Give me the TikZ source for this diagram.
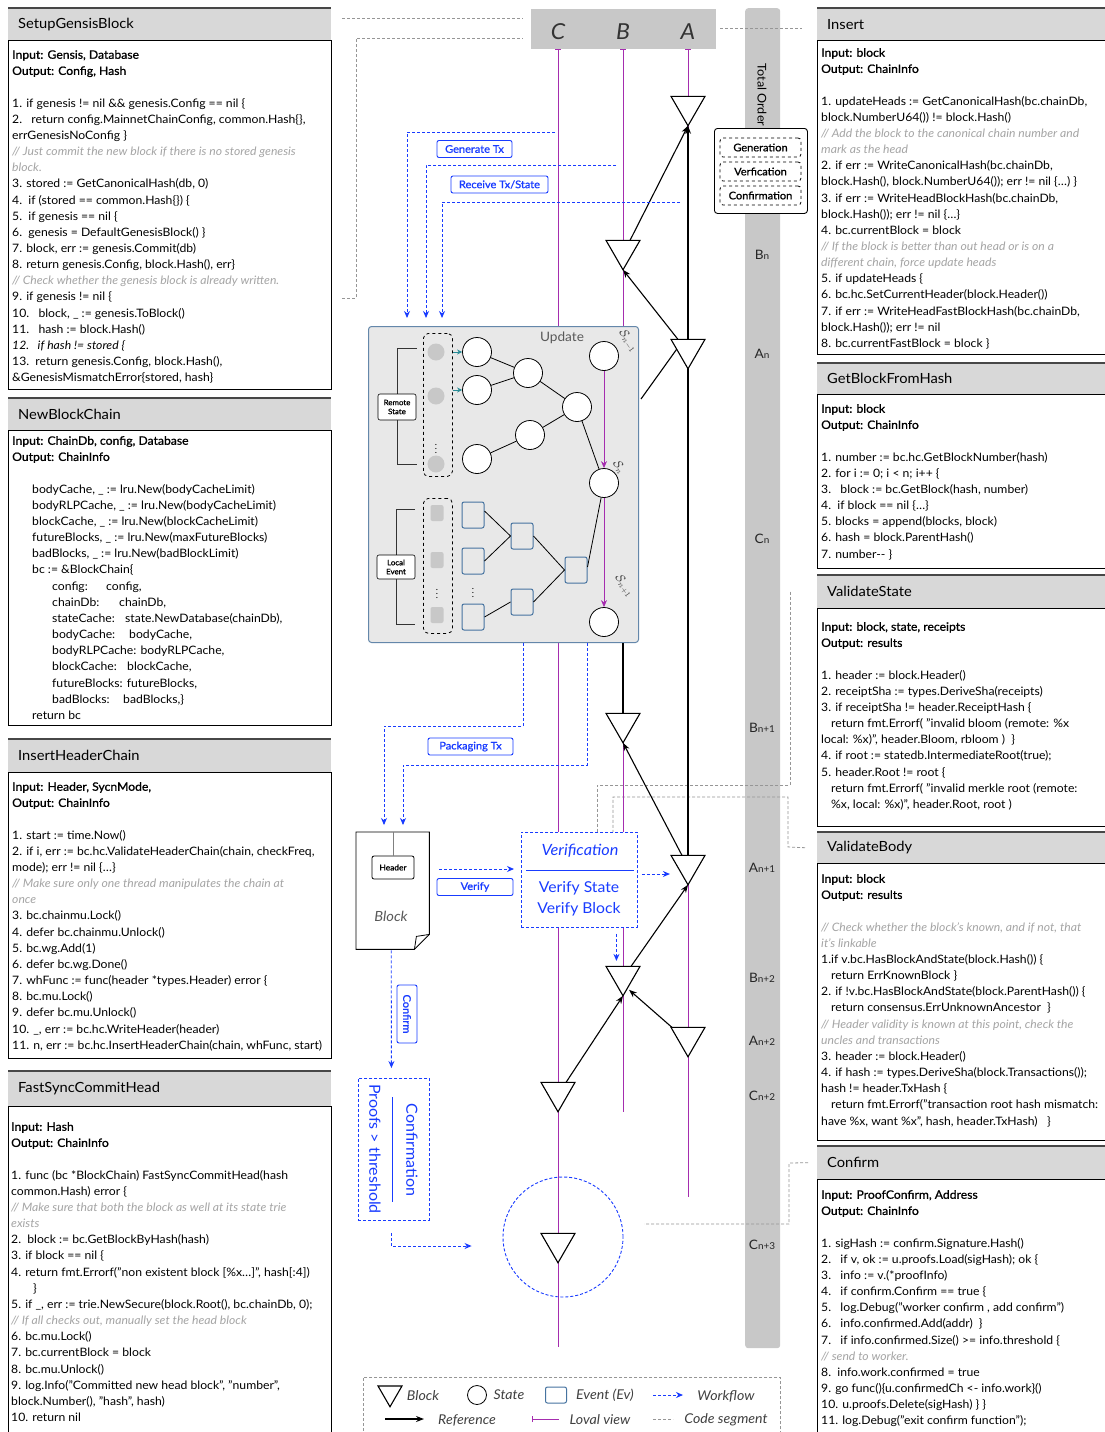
\documentclass[tikz,border=0pt]{standalone}
\usepackage{fontspec}
\setmainfont{Lato}[FakeStretch=1.05]
\newfontfamily\medfont{Lato}[FakeBold=1,FakeStretch=1.05]
\usetikzlibrary{arrows.meta,shapes.geometric,calc}

\definecolor{wfblue}{RGB}{25,60,255}
\definecolor{lane}{RGB}{165,45,175}
\definecolor{cmt}{RGB}{165,165,165}
\definecolor{hdrgray}{RGB}{216,216,216}
\definecolor{bargray}{RGB}{200,200,200}
\definecolor{segray}{RGB}{150,150,150}
\definecolor{evblue}{RGB}{70,115,160}
\definecolor{updfill}{RGB}{232,232,232}
\definecolor{updedge}{RGB}{100,135,170}
\definecolor{tealc}{RGB}{40,140,150}

\newcommand\cm[1]{{\color{cmt}\itshape #1}}
\newcommand\io[1]{{\medfont #1}}
\newcommand\kv[3]{\makebox[#2pt][l]{#1}#3}
\newcommand\seq[2]{{\fontsize{13}{13}\selectfont #1}{\fontsize{9.5}{10}\selectfont #2}}

% function panel: grey title band over a framed body
\newcommand\fnpanel[7]{%
  \node[hdrband, minimum width=#4, minimum height=#5] (#1h) at (#2,#3) {};
  \draw[hdrrule] (#1h.north west) -- (#1h.north east);
  \node[hdrtitle] (#1t) at ($(#1h.west)+(10,0)$) {#7};
  \node[bodybox, minimum width=#4, minimum height=#6] (#1b) at (#1h.south west) {};
}

\tikzset{
  hdrband/.style={fill=hdrgray, draw=none, inner sep=0, anchor=north west},
  hdrtitle/.style={anchor=west, inner sep=0, font=\fontsize{14}{16}\selectfont},
  hdrrule/.style={line width=1.6, draw=black!72},
  bodybox/.style={draw=black, line width=0.9, fill=white, anchor=north west, inner sep=0},
  codetext/.style={anchor=north west, inner sep=0, align=left, font=\fontsize{11.6}{16.15}\selectfont},
  seg/.style={draw=segray, line width=0.8, dash pattern=on 3pt off 2pt},
  lanel/.style={draw=lane, line width=0.9, arrows={Bar[width=6pt]-}},
  refl/.style={draw=black, line width=1.1},
  refa/.style={refl, -{Stealth[length=8pt,width=6pt]}},
  wf/.style={draw=wfblue, line width=0.9, dash pattern=on 3pt off 2pt, -{Stealth[length=7pt,width=6pt]}},
  wflbl/.style={draw=wfblue, text=wfblue, fill=white, rounded corners=2, line width=0.9, inner sep=0, minimum height=17, font=\medfont\fontsize{10.5}{12}\selectfont},
  blk/.style={draw, line width=1.1, fill=white, regular polygon, regular polygon sides=3, shape border rotate=180, minimum size=36.95, inner sep=0},
  stc/.style={circle, draw, line width=0.8, fill=white, minimum size=29, inner sep=0},
  rdot/.style={circle, fill=bargray, minimum size=17, inner sep=0},
  evb/.style={draw=evblue, line width=1, rounded corners=2, minimum width=22, minimum height=26, inner sep=0},
  lsq/.style={fill=bargray, rounded corners=2, minimum width=13, minimum height=16, inner sep=0},
  colbox/.style={draw, dashed, line width=0.8, rounded corners=5, inner sep=0, anchor=north west},
  brk/.style={draw=black!80, line width=0.8},
  brklbl/.style={draw, rounded corners=2, fill=white, line width=0.6, align=center, inner sep=1.5, font=\medfont\fontsize{7.5}{9}\selectfont, minimum width=38},
  edg/.style={draw=black, line width=0.8},
  seqlab/.style={text=black!85, inner sep=0},
  slab/.style={text=black!75, inner sep=0, rotate=-55, font=\fontsize{12}{12}\selectfont},
  legtxt/.style={font=\itshape\fontsize{13.5}{14}\selectfont, text=black!75, inner sep=0},
  phase/.style={draw, dashed, rounded corners=3, line width=0.8, minimum width=81, minimum height=19, inner sep=0, font=\medfont\fontsize{10.5}{12}\selectfont},
}

\begin{document}
\begin{tikzpicture}[x=1pt,y=-1pt]
\useasboundingbox (0,0) rectangle (1105,1432);
\fill[white] (0,0) rectangle (1105,1432);

% ---------- total order bar ----------
\node[fill=bargray, rounded corners=3, minimum width=35, minimum height=1340, anchor=north west, inner sep=0] (tobar) at (745,8) {};
\node[rotate=-90, font=\fontsize{12}{12}\selectfont] (totxt) at (762,95) {Total Order};
\node[seqlab] (oBn)  at (762,255)  {\seq{B}{n}};
\node[seqlab] (oAn)  at (762,354)  {\seq{A}{n}};
\node[seqlab] (oCn)  at (762,539)  {\seq{C}{n}};
\node[seqlab] (oBn1) at (762,728)  {\seq{B}{n+1}};
\node[seqlab] (oAn1) at (762,868)  {\seq{A}{n+1}};
\node[seqlab] (oBn2) at (762,978)  {\seq{B}{n+2}};
\node[seqlab] (oAn2) at (762,1041) {\seq{A}{n+2}};
\node[seqlab] (oCn2) at (762,1096) {\seq{C}{n+2}};
\node[seqlab] (oCn3) at (762,1245) {\seq{C}{n+3}};

% ---------- function panels ----------
\fnpanel{sg}{8}{8}{323}{32}{349}{SetupGensisBlock}
\fnpanel{nb}{8}{398}{323}{32}{295}{NewBlockChain}
\fnpanel{ih}{8}{739}{323}{33}{286}{InsertHeaderChain}
\fnpanel{fs}{8}{1071}{323}{35}{340}{FastSyncCommitHead}
\fnpanel{in}{817}{8}{292}{32}{314}{Insert}
\fnpanel{gb}{817}{363}{292}{31}{174}{GetBlockFromHash}
\fnpanel{vs}{817}{575}{292}{33}{218}{ValidateState}
\fnpanel{vb}{817}{832}{292}{31}{277}{ValidateBody}
\fnpanel{cf}{817}{1146}{292}{33}{300}{Confirm}

\node[codetext] (sgc) at (12,50) {%
\io{Input: Gensis, Database}\\
\io{Output: Config, Hash}\\
\mbox{}\\
1. if genesis != nil \&\& genesis.Config == nil \{\\
2.\ \ \ return config.MainnetChainConfig, common.Hash\{\},\\
errGenesisNoConfig \}\\
\cm{// Just commit the new block if there is no stored genesis}\\
\cm{block.}\\
3. stored := GetCanonicalHash(db, 0)\\
4.\ \ if (stored == common.Hash\{\}) \{\\
5.\ \ if genesis == nil \{\\
6.\ \ genesis = DefaultGenesisBlock() \}\\
7. block, err := genesis.Commit(db)\\
8. return genesis.Config, block.Hash(), err\}\\
\cm{// Check whether the genesis block is already written.}\\
9. if genesis != nil \{\\
10.\ \ \ block, \_ := genesis.ToBlock()\\
11.\ \ \ hash := block.Hash()\\
{\itshape 12.\ \ \ if hash != stored \{}\\
13.\ \ return genesis.Config, block.Hash(),\\
\&GenesisMismatchError\{stored, hash\}};

\node[codetext] (nbc) at (12,436) {%
\io{Input: ChainDb, config, Database}\\
\io{Output: ChainInfo}\\
\mbox{}\\
\hspace*{20pt}bodyCache, \_ := lru.New(bodyCacheLimit)\\
\hspace*{20pt}bodyRLPCache, \_ := lru.New(bodyCacheLimit)\\
\hspace*{20pt}blockCache, \_ := lru.New(blockCacheLimit)\\
\hspace*{20pt}futureBlocks, \_ := lru.New(maxFutureBlocks)\\
\hspace*{20pt}badBlocks, \_ := lru.New(badBlockLimit)\\
\hspace*{20pt}bc := \&BlockChain\{\\
\hspace*{40pt}\kv{config:}{54}{config,}\\
\hspace*{40pt}\kv{chainDb:}{67}{chainDb,}\\
\hspace*{40pt}\kv{stateCache:}{73}{state.NewDatabase(chainDb),}\\
\hspace*{40pt}\kv{bodyCache:}{77}{bodyCache,}\\
\hspace*{40pt}bodyRLPCache: bodyRLPCache,\\
\hspace*{40pt}\kv{blockCache:}{75}{blockCache,}\\
\hspace*{40pt}futureBlocks: futureBlocks,\\
\hspace*{40pt}\kv{badBlocks:}{71}{badBlocks,\}}\\
\hspace*{20pt}return bc};

\node[codetext] (ihc) at (12,782) {%
\io{Input: Header, SycnMode,}\\
\io{Output: ChainInfo}\\
\mbox{}\\
1. start := time.Now()\\
2. if i, err := bc.hc.ValidateHeaderChain(chain, checkFreq,\\
mode); err != nil \{…\}\\
\cm{// Make sure only one thread manipulates the chain at}\\
\cm{once}\\
3. bc.chainmu.Lock()\\
4. defer bc.chainmu.Unlock()\\
5. bc.wg.Add(1)\\
6. defer bc.wg.Done()\\
7. whFunc := func(header *types.Header) error \{\\
8. bc.mu.Lock()\\
9. defer bc.mu.Unlock()\\
10. \_, err := bc.hc.WriteHeader(header)\\
11. n, err := bc.hc.InsertHeaderChain(chain, whFunc, start)};

\node[codetext] (fsc) at (11,1122) {%
\io{Input: Hash}\\
\io{Output: ChainInfo}\\
\mbox{}\\
1. func (bc *BlockChain) FastSyncCommitHead(hash\\
common.Hash) error \{\\
\cm{// Make sure that both the block as well at its state trie}\\
\cm{exists}\\
2.\ \ block := bc.GetBlockByHash(hash)\\
3. if block == nil \{\\
4. return fmt.Errorf("non existent block [\%x…]", hash[:4])\\
\hspace*{22pt}\}\\
5. if \_, err := trie.NewSecure(block.Root(), bc.chainDb, 0);\\
\cm{// If all checks out, manually set the head block}\\
6. bc.mu.Lock()\\
7. bc.currentBlock = block\\
8. bc.mu.Unlock()\\
9. log.Info("Committed new head block", "number",\\
block.Number(), "hash", hash)\\
10. return nil};

\node[codetext] (inc) at (821,48) {%
\io{Input: block}\\
\io{Output: ChainInfo}\\
\mbox{}\\
1. updateHeads := GetCanonicalHash(bc.chainDb,\\
block.NumberU64()) != block.Hash()\\
\cm{// Add the block to the canonical chain number and}\\
\cm{mark as the head}\\
2. if err := WriteCanonicalHash(bc.chainDb,\\
block.Hash(), block.NumberU64()); err != nil \{…) \}\\
3. if err := WriteHeadBlockHash(bc.chainDb,\\
block.Hash()); err != nil \{…\}\\
4. bc.currentBlock = block\\
\cm{// If the block is better than out head or is on a}\\
\cm{different chain, force update heads}\\
5. if updateHeads \{\\
6. bc.hc.SetCurrentHeader(block.Header())\\
7. if err := WriteHeadFastBlockHash(bc.chainDb,\\
block.Hash()); err != nil\\
8. bc.currentFastBlock = block \}};

\node[codetext] (gbc) at (821,404) {%
\io{Input: block}\\
\io{Output: ChainInfo}\\
\mbox{}\\
1. number := bc.hc.GetBlockNumber(hash)\\
2. for i := 0; i < n; i++ \{\\
3.\ \ \ block := bc.GetBlock(hash, number)\\
4.\ \ if block == nil \{…\}\\
5. blocks = append(blocks, block)\\
6. hash = block.ParentHash()\\
7. number-{}- \}};

\node[codetext] (vsc) at (821,622) {%
\io{Input: block, state, receipts}\\
\io{Output: results}\\
\mbox{}\\
1. header := block.Header()\\
2. receiptSha := types.DeriveSha(receipts)\\
3. if receiptSha != header.ReceiptHash \{\\
\hspace*{10pt}return fmt.Errorf( "invalid bloom (remote: \%x\\
local: \%x)", header.Bloom, rbloom )\ \ \}\\
4. if root := statedb.IntermediateRoot(true);\\
5. header.Root != root \{\\
\hspace*{10pt}return fmt.Errorf( "invalid merkle root (remote:\\
\hspace*{10pt}\%x, local: \%x)", header.Root, root )};

\node[codetext] (vbc) at (821,874) {%
\io{Input: block}\\
\io{Output: results}\\
\mbox{}\\
\cm{// Check whether the block's known, and if not, that}\\
\cm{it's linkable}\\
1.if v.bc.HasBlockAndState(block.Hash()) \{\\
\hspace*{10pt}return ErrKnownBlock \}\\
2. if !v.bc.HasBlockAndState(block.ParentHash()) \{\\
\hspace*{10pt}return consensus.ErrUnknownAncestor\ \ \}\\
\cm{// Header validity is known at this point, check the}\\
\cm{uncles and transactions}\\
3. header := block.Header()\\
4. if hash := types.DeriveSha(block.Transactions());\\
hash != header.TxHash \{\\
\hspace*{10pt}return fmt.Errorf("transaction root hash mismatch:\\
have \%x, want \%x", hash, header.TxHash)\ \ \ \}};

\node[codetext] (cfc) at (821,1190) {%
\io{Input: ProofConfirm, Address}\\
\io{Output: ChainInfo}\\
\mbox{}\\
1. sigHash := confirm.Signature.Hash()\\
2.\ \ \ if v, ok := u.proofs.Load(sigHash); ok \{\\
3.\ \ \ info := v.(*proofInfo)\\
4.\ \ \ if confirm.Confirm == true \{\\
5.\ \ \ log.Debug("worker confirm , add confirm")\\
6.\ \ \ info.confirmed.Add(addr)\ \ \}\\
7.\ \ \ if info.confirmed.Size() >= info.threshold \{\\
\cm{// send to worker.}\\
8.\ \ info.work.confirmed = true\\
9. go func()\{u.confirmedCh <- info.work\}()\\
10. u.proofs.Delete(sigHash) \} \}\\
11. log.Debug("exit confirm function");};

% ---------- code segment links ----------
\draw[seg] (342,18) -- (523,18);
\draw[seg] (342,298) -- (356,298) -- (356,38) -- (523,38);
\draw[seg] (720,28) -- (802,28);
\draw[seg] ($(vsh.west)+(-27,0)$) -- (790,593) -- (790,785) -- (597,785) -- (597,832);
\draw[seg] ($(vbh.west)+(-12,0)$) -- (788,847) -- (788,797) -- (613,797) -- (613,832);
\draw[seg] ($(cfh.west)+(-9,0)$) -- (789,1163) -- (789,1224) -- (644,1224);

% ---------- lanes ----------
\node[fill=bargray, minimum width=185, minimum height=40, anchor=north west, inner sep=0] (lanes) at (531,9) {};
\node[font=\itshape\fontsize{22}{22}\selectfont, text=black!80] (labC) at (558,32) {C};
\node[font=\itshape\fontsize{22}{22}\selectfont, text=black!80] (labB) at (623,32) {B};
\node[font=\itshape\fontsize{22}{22}\selectfont, text=black!80] (labA) at (688,32) {A};
\coordinate (Cend) at (558,1347);
\coordinate (Bend) at (623,1112);
\coordinate (Aend) at (688,1197);
\draw[lanel] (lanes.south -| labC) -- (Cend);
\draw[lanel] (lanes.south -| labB) -- (Bend);
\draw[lanel] (lanes.south -| labA) -- (Aend);

% ---------- blocks ----------
\node[blk] (Atop) at (688,106.2) {};
\node[blk] (Bn)   at (623,250.2) {};
\node[blk] (An)   at (688,349.2) {};
\node[blk] (Bn1)  at (623,723.2) {};
\node[blk] (An1)  at (688,865.2) {};
\node[blk] (Bn2)  at (623,976.2) {};
\node[blk] (An2)  at (688,1037.2) {};
\node[blk] (Cn2)  at (558,1092.2) {};
\node[blk] (Cn3)  at (558,1243.2) {};

% ---------- update box ----------
\node[draw=updedge, fill=updfill, rounded corners=3, line width=1, minimum width=270, minimum height=316, anchor=north west, inner sep=0] (upd) at (368,326) {};
\node[text=black!65, font=\fontsize{13}{13}\selectfont] (updtxt) at (562,338) {Update};

% references between blocks
\draw[refa] (An1.north) -- (Atop.south);
\draw[refa] ($(Bn.north)+(7,0)$) -- (Atop.south);
\draw[refa] ($(An.north)+(-10,0)$) -- (Bn.south);
\coordinate (updA) at (641,399);
\draw[refl] (updA) -- (An.west);
\draw[refl] (upd.south -| Bn1) -- (Bn1.north);
\draw[refa] ($(An1.north)+(-6,0)$) -- (Bn1.south);
\draw[refa] ($(Bn2.north)+(8,0)$) -- (An1.south);
\draw[refa] ($(Cn2.north)+(8,0)$) -- (Bn2.south);
\draw[refa] ($(An2.north)+(-16,0)$) -- ($(Bn2.south)+(6,-6)$);
% redraw blocks above the reference lines
\foreach \b in {Atop,Bn,An,Bn1,An1,Bn2,An2,Cn2,Cn3}{
  \draw[line width=1.1, fill=white] (\b.corner 1) -- (\b.corner 2) -- (\b.corner 3) -- cycle;
}

% remote state column
\node[colbox, minimum width=29, minimum height=143] (rcol) at (423,333) {};
\node[rdot] (rd1) at (436,352) {};
\node[rdot] (rd2) at (436,396) {};
\node[rdot] (rd3) at (436,464) {};
\node[font=\fontsize{9}{9}\selectfont] (rdd) at (436,446) {$\vdots$};
\draw[brk] (417,348) -- (397,348) -- (397,464) -- (417,464);
\node[brklbl, minimum height=26] (rlab) at (397,407) {Remote\\State};

% state tree
\node[stc] (c1) at (477,352) {};
\node[stc] (c2) at (477,390) {};
\node[stc] (c3) at (528,373) {};
\node[stc] (c4) at (577,407) {};
\node[stc] (c5) at (530,435) {};
\node[stc] (c6) at (477,459) {};
\node[stc] (Sn1) at (604,356) {};
\node[stc] (Sn)  at (604,483) {};
\node[stc] (Sn2) at (604,622) {};
\draw[edg] (c1) -- (c3);
\draw[edg] (c2) -- (c3);
\draw[edg] (c3) -- (c4);
\draw[edg] (c6) -- (c5);
\draw[edg] (c5) -- (c4);
\draw[edg] (c4) -- (Sn);
\draw[draw=tealc, line width=0.8, -{Stealth[length=5pt,width=5pt]}] (rcol.east |- c1) -- (c1.west);
\draw[draw=tealc, line width=0.8, -{Stealth[length=5pt,width=5pt]}] (rcol.east |- c2) -- (c2.west);
\draw[draw=lane, line width=1, -{Stealth[length=7pt,width=6pt]}] (Sn1) -- (Sn);
\draw[draw=lane, line width=1, -{Stealth[length=7pt,width=6pt]}] (Sn) -- (Sn2);
\node[slab] (lSn1) at (628,341) {$\mathcal{S}_{n-1}$};
\node[slab] (lSn)  at (619,467) {$\mathcal{S}_{n}$};
\node[slab] (lSn2) at (624,586) {$\mathcal{S}_{n+1}$};

% local event column
\node[colbox, minimum width=29, minimum height=135] (lcol) at (423,498) {};
\node[lsq] (le1) at (437,513) {};
\node[lsq] (le2) at (437,560) {};
\node[lsq] (le3) at (437,615) {};
\node[font=\fontsize{9}{9}\selectfont] (led) at (437,591) {$\vdots$};
\draw[brk] (415,509) -- (396,509) -- (396,624) -- (415,624);
\node[brklbl, minimum height=24] (llab) at (396,567) {Local\\Event};

% event tree
\node[evb] (e1) at (473,515) {};
\node[evb] (e2) at (473,561) {};
\node[evb] (e3) at (473,617) {};
\node[evb] (e4) at (522,536) {};
\node[evb] (e5) at (522,602) {};
\node[evb] (e6) at (576,570) {};
\node[font=\fontsize{9}{9}\selectfont] (ed) at (473,590) {$\vdots$};
\draw[edg] ($(e1.east)+(0,-4)$) -- (e4.west);
\draw[edg] (e2.east) -- (e4.west);
\draw[edg] (e3.east) -- (e5.west);
\draw[edg] (e4.east) -- (e6.west);
\draw[edg] (e5.east) -- (e6.west);
\draw[edg] ($(e6.east)+(0,-3)$) -- (Sn);

% ---------- workflow ----------
\coordinate (gA) at (555,132);
\coordinate (rA) at (616,165);
\coordinate (tA) at (680,202);
\draw[wf, shorten >=8pt] (gA) -| ($(upd.north west)+(39,0)$);
\draw[wf, shorten >=8pt] (rA) -| ($(upd.north west)+(58,0)$);
\draw[wf, shorten >=8pt] (tA) -| ($(upd.north west)+(74,0)$);
\node[wflbl, minimum width=75] (lgen) at (474.5,149) {Generate Tx};
\node[wflbl, minimum width=97] (lrec) at (499.5,184.5) {Receive Tx/State};

% block document
\node[minimum width=73, minimum height=117, anchor=north west, inner sep=0] (doc) at (356,832) {};
\draw[line width=0.9, fill=white] (doc.north west) -- (doc.north east) -- ($(doc.south east)+(0,-15)$) -- ($(doc.south east)+(-15,0)$) -- (doc.south west) -- cycle;
\draw[line width=0.8] ($(doc.south east)+(0,-15)$) -- ($(doc.south east)+(-13,-13)$) -- ($(doc.south east)+(-15,0)$);
\node[draw, rounded corners=2, fill=white, line width=0.8, minimum width=42, minimum height=23, inner sep=0, font=\medfont\fontsize{8}{8}\selectfont] (hdrb) at (393,867.5) {Header};
\draw[draw=black!50, line width=1] (doc.north -| hdrb) -- (hdrb.north);
\node[font=\itshape\fontsize{14}{14}\selectfont, text=black!65] (doctxt) at (391,916) {Block};

\draw[wf, shorten >=7pt] ($(upd.south west)+(155,0)$) -- ++(0,83) -| ($(doc.north west)+(28,0)$);
\draw[wf, shorten >=7pt] ($(upd.south west)+(219,0)$) -- ++(0,122) -| ($(doc.north west)+(47,0)$);
\node[wflbl, minimum width=85] (lpack) at (470.5,746.5) {Packaging Tx};

% verification
\node[draw=wfblue, dash pattern=on 3pt off 2pt, fill=white, line width=0.9, minimum width=116, minimum height=95, anchor=north west, inner sep=0] (verif) at (521,832) {};
\node[text=wfblue, font=\itshape\fontsize{15.5}{16}\selectfont] (vtit) at (580,851) {Verification};
\draw[draw=wfblue, line width=0.9] ($(verif.north west)+(5,38)$) -- ($(verif.north east)+(-4,38)$);
\node[text=wfblue, font=\fontsize{15}{21}\selectfont, align=center] (vbody) at (579,898.5) {Verify State\\Verify Block};
\draw[wf] ($(doc.north east)+(10,37)$) -- ($(verif.north west)+(-7,37)$);
\node[wflbl, minimum width=76] (lver) at (475,887) {Verify};
\draw[wf] ($(verif.north east)+(4,42)$) -- ($(verif.north east)+(32,42)$);
\draw[wf] ($(verif.south)+(37,6)$) -- ++(0,27);

% confirmation
\node[draw=wfblue, dash pattern=on 3pt off 2pt, fill=white, line width=0.9, minimum width=71, minimum height=142, anchor=north west, inner sep=0] (conf) at (358,1078) {};
\node[text=wfblue, rotate=-90, font=\fontsize{15.3}{16}\selectfont] (ctit) at (412,1150) {Confirmation};
\draw[draw=wfblue, line width=0.9] (392,1097) -- (392,1202);
\node[text=wfblue, rotate=-90, font=\fontsize{15.3}{16}\selectfont] (cbody) at (375,1149) {Proofs > threshold};
\draw[wf, shorten >=10pt] ($(doc.south)+(-1.5,1)$) -- ($(conf.north)+(-2.5,0)$);
\node[wflbl, rotate=-90, minimum width=58, minimum height=20] (lconf) at (407,1014) {Confirm};
\node[circle, draw=wfblue, dash pattern=on 3pt off 2pt, line width=0.9, minimum size=120, inner sep=0] (ring) at (563,1237) {};
\draw[wf] ($(conf.south)+(-2.5,12)$) |- ($(ring.west)+(-31,9)$);

% ---------- phases ----------
\node[draw, rounded corners=3, fill=white, line width=0.9, minimum width=93, minimum height=85, anchor=north west, inner sep=0] (phases) at (714,128) {};
\node[phase] (pgen) at (760.5,147.5) {Generation};
\node[phase] (pver) at (760.5,171.5) {Verfication};
\node[phase] (pcon) at (760.5,195.5) {Confirmation};

% ---------- legend ----------
\node[draw=segray, dash pattern=on 3pt off 2pt, line width=0.8, minimum width=417, minimum height=80, anchor=north west, inner sep=0] (leg) at (363,1377) {};
\node[blk, minimum size=27.7] (lgblk) at (390,1392.9) {};
\node[legtxt] (lgt1) at (423,1396) {Block};
\node[stc, minimum size=19] (lgst) at (477,1395) {};
\node[legtxt] (lgt2) at (509,1395) {State};
\node[evb, minimum width=21, minimum height=16] (lgev) at (556,1395) {};
\node[legtxt] (lgt3) at (605,1395) {Event (Ev)};
\coordinate (lw1) at (653,1395);
\coordinate (lw2) at (683,1395);
\draw[wf] (lw1) -- (lw2);
\node[legtxt] (lgt4) at (726,1396) {Workflow};
\coordinate (lr1) at (385,1419);
\coordinate (lr2) at (424,1419);
\draw[refa] (lr1) -- (lr2);
\node[legtxt] (lgt5) at (467,1420) {Reference};
\coordinate (ll1) at (532,1419);
\coordinate (ll2) at (559,1419);
\draw[lanel] (ll1) -- (ll2);
\node[legtxt] (lgt6) at (600,1420) {Loval view};
\coordinate (ls1) at (653,1419);
\coordinate (ls2) at (673,1419);
\draw[seg] (ls1) -- (ls2);
\node[legtxt] (lgt7) at (726,1420) {Code segment};
\end{tikzpicture}
\end{document}
